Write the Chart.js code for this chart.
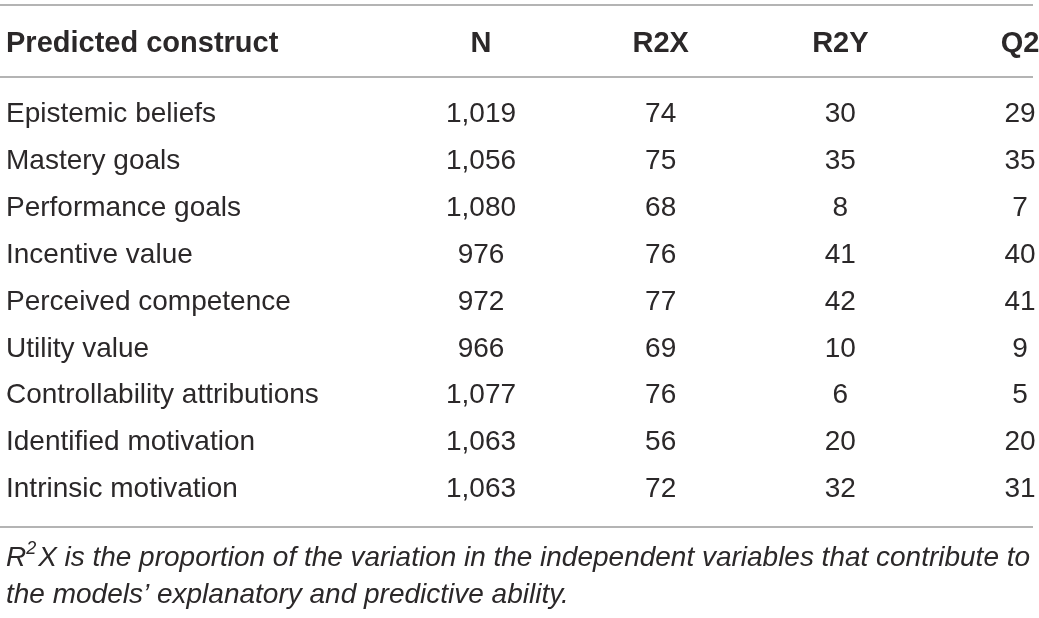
<!DOCTYPE html>
<html>
<head>
<meta charset="utf-8">
<script src="https://cdn.jsdelivr.net/npm/chart.js@4/dist/chart.umd.min.js"></script>
<style>
  html, body { margin: 0; padding: 0; background: #fff; }
  #wrap { width: 1039px; height: 618px; position: relative; }
</style>
</head>
<body>
<div id="wrap"><canvas id="table-chart"></canvas></div>
<script>
// table contents
var rowHead = "Predicted construct";
var constructs = ["Epistemic beliefs", "Mastery goals", "Performance goals", "Incentive value",
  "Perceived competence", "Utility value", "Controllability attributions",
  "Identified motivation", "Intrinsic motivation"];
var columns = ["N", "R2X", "R2Y", "Q2"];
var nValues = [1019, 1056, 1080, 976, 972, 966, 1077, 1063, 1063];
var r2xValues = [74, 75, 68, 76, 77, 69, 76, 56, 72];
var r2yValues = [30, 35, 8, 41, 42, 10, 6, 20, 32];
var q2Values = [29, 35, 7, 40, 41, 9, 5, 20, 31];
var noteLine1 = "X is the proportion of the variation in the independent variables that contribute to";
var noteLine2 = "the models\u2019 explanatory and predictive ability.";

var FONT = "'Liberation Sans', Arial, Helvetica, sans-serif";
var INK = "#2b2829";
var RULE = "#9b9b9b";

var series = [nValues, r2xValues, r2yValues, q2Values];

// one invisible dataset per column, the cell text is painted at each point
var datasets = columns.map(function (col, j) {
  return {
    label: col,
    values: series[j],
    data: constructs.map(function (row) { return { x: col, y: row }; }),
    pointRadius: 0,
    pointHoverRadius: 0,
    showLine: false
  };
});

// rules, header label, cell numbers and the note
var tablePlugin = {
  id: "tablePlugin",
  afterDraw: function (chart) {
    var ctx = chart.ctx;
    var area = chart.chartArea;
    ctx.save();

    // horizontal rules
    ctx.strokeStyle = RULE;
    ctx.lineWidth = 1.5;
    [5, area.top - 14, area.bottom + 14].forEach(function (y) {
      ctx.beginPath();
      ctx.moveTo(0, y);
      ctx.lineTo(1033, y);
      ctx.stroke();
    });

    // first header cell, on the same line as the column headers
    ctx.fillStyle = INK;
    ctx.font = "bold 29px " + FONT;
    ctx.textAlign = "left";
    ctx.textBaseline = "middle";
    ctx.fillText(rowHead, 6, area.top - 47);

    // numbers
    ctx.font = "28px " + FONT;
    ctx.textAlign = "center";
    chart.data.datasets.forEach(function (ds, j) {
      var meta = chart.getDatasetMeta(j);
      meta.data.forEach(function (pt, i) {
        ctx.fillText(ds.values[i].toLocaleString("en-US"), pt.x, pt.y);
      });
    });

    // note, first line justified
    ctx.textAlign = "left";
    ctx.textBaseline = "alphabetic";
    var y1 = area.bottom + 53, y2 = area.bottom + 90;
    var it = "italic 28px " + FONT;
    var sup = "italic 18px " + FONT;
    ctx.font = it;
    var rW = ctx.measureText("R").width;
    ctx.font = sup;
    var sW = ctx.measureText("2").width + 2;
    ctx.font = it;
    var words = noteLine1.split(" ");
    var total = rW + sW;
    words.forEach(function (w) { total += ctx.measureText(w).width; });
    var gap = (1030 - 6 - total) / (words.length - 1);
    var x = 6;
    ctx.fillText("R", x, y1);
    x += rW;
    ctx.font = sup;
    ctx.fillText("2", x, y1 - 12);
    x += sW;
    ctx.font = it;
    words.forEach(function (w) {
      ctx.fillText(w, x, y1);
      x += ctx.measureText(w).width + gap;
    });
    ctx.fillText(noteLine2, 6, y2);
    ctx.restore();
  }
};

new Chart("table-chart", {
  type: "scatter",
  data: { datasets: datasets },
  options: {
    responsive: true,
    maintainAspectRatio: false,
    animation: false,
    events: [],
    layout: { padding: { left: 6, right: 19, top: 0, bottom: 105 } },
    plugins: { legend: { display: false }, tooltip: { enabled: false } },
    scales: {
      x: {
        type: "category",
        labels: columns,
        position: "top",
        offset: false,
        grid: { display: false },
        border: { display: false },
        ticks: {
          autoSkip: false, maxRotation: 0, padding: 22,
          color: INK,
          font: { family: FONT, size: 29, weight: "bold" }
        },
        afterFit: function (axis) {
          axis.height = 91;
          axis.paddingLeft = 0;
          axis.paddingRight = 0;
        }
      },
      y: {
        type: "category",
        labels: constructs,
        offset: true,
        grid: { display: false },
        border: { display: false },
        ticks: {
          autoSkip: false, crossAlign: "far",
          color: INK,
          font: { family: FONT, size: 28 }
        },
        afterFit: function (axis) { axis.width = 475; }
      }
    }
  },
  plugins: [tablePlugin]
});
</script>
</body>
</html>
